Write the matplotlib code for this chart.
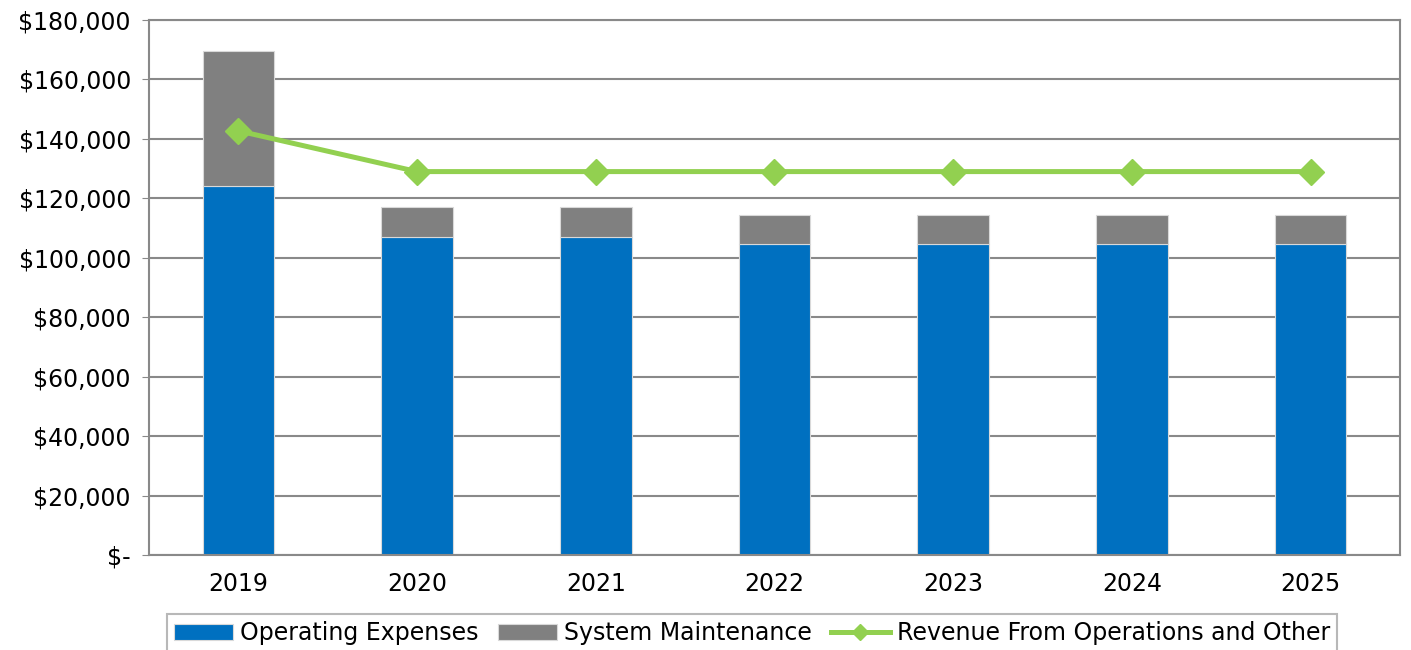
import matplotlib.pyplot as plt
import numpy as np

years = ["2019", "2020", "2021", "2022", "2023", "2024", "2025"]
operating = [124000, 107000, 107000, 104500, 104500, 104500, 104500]
maintenance = [45500, 10000, 10000, 10000, 10000, 10000, 10000]
revenue = [142700, 129000, 129000, 129000, 129000, 129000, 129000]

plt.rcParams['font.family'] = ['DejaVu Sans']

fig = plt.figure(figsize=(14.11, 6.5), dpi=100)
ax = fig.add_axes([0.1056, 0.1462, 0.8866, 0.823])

x = np.arange(len(years))
b1 = ax.bar(x, operating, width=0.4, color="#0070C0", edgecolor="#d9d9d9", linewidth=0.8,
            label="Operating Expenses", zorder=2)
b2 = ax.bar(x, maintenance, width=0.4, bottom=operating, color="#808080", edgecolor="#d9d9d9",
            linewidth=0.8, label="System Maintenance", zorder=2)
ln, = ax.plot(x, revenue, color="#92D050", linewidth=3.6, marker="D", markersize=13,
              label="Revenue From Operations and Other", zorder=3)

ax.set_xlim(-0.5, len(years) - 0.5)
ax.set_ylim(0, 180000)
ax.set_yticks(np.arange(0, 180001, 20000))
ax.set_yticklabels(["$-"] + ["${:,}".format(v) for v in range(20000, 180001, 20000)])
ax.set_xticks(x)
ax.set_xticklabels(years)
ax.tick_params(axis='x', length=0, labelsize=17, pad=12)
ax.tick_params(axis='y', length=5, color="#898989", labelsize=17, pad=8)
ax.yaxis.grid(True, color="#898989", linewidth=1.5, zorder=0)
ax.set_axisbelow(True)
for s in ax.spines.values():
    s.set_color("#898989")
    s.set_linewidth(1.5)

leg = fig.legend([b1, b2, ln], [b1.get_label(), b2.get_label(), ln.get_label()],
                 loc="upper center", bbox_to_anchor=(0.533, 0.0554), ncol=3,
                 fontsize=17, frameon=True, fancybox=False, edgecolor="#a6a6a6",
                 handlelength=2.5, columnspacing=0.8, handletextpad=0.3,
                 borderpad=0.3, borderaxespad=0, markerscale=0.6)
leg.get_frame().set_linewidth(1.5)

plt.savefig("out.png", dpi=100)
